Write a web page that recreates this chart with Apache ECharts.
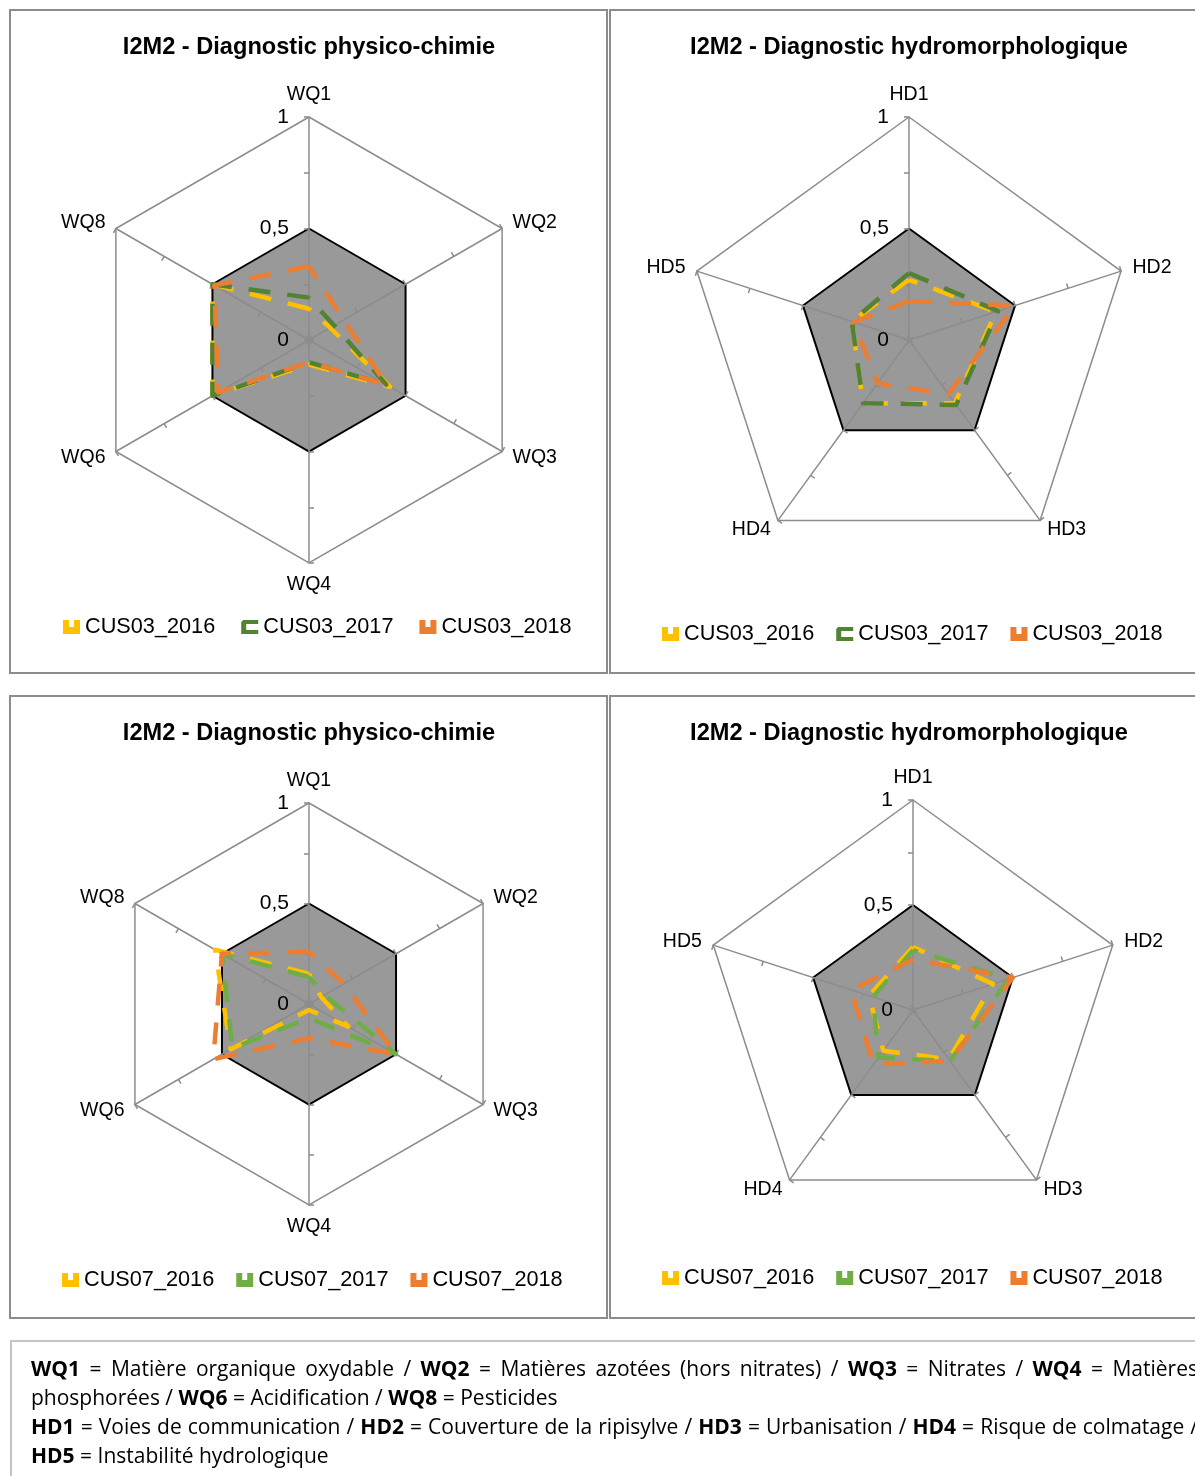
<!DOCTYPE html>
<html>
<head>
<meta charset="utf-8">
<title>I2M2 - Diagnostics CUS03 / CUS07</title>
<script src="https://cdn.jsdelivr.net/npm/echarts@6/dist/echarts.min.js"></script>
<style>
  html, body { margin: 0; padding: 0; background: #fff; overflow: hidden; }
  #chart { position: absolute; left: 0; top: 0; width: 1195px; height: 1476px; }
  #notes {
    position: absolute; left: 10px; top: 1340px; width: 1230px; height: 160px;
    box-sizing: border-box; border: 2px solid #c4c4c4;
    padding: 12px 0 0 19px;
    font-family: "Open Sans", sans-serif; font-size: 21px; line-height: 29px; color: #000;
  }
  #notes .j { width: 1167px; text-align: justify; text-align-last: justify; }
  #notes b { font-weight: 700; }
</style>
</head>
<body>
<div id="chart"></div>
<div id="notes">
  <div class="j"><b>WQ1</b> = Matière organique oxydable / <b>WQ2</b> = Matières azotées (hors nitrates) / <b>WQ3</b> = Nitrates / <b>WQ4</b> = Matières</div>
  <div>phosphorées / <b>WQ6</b> = Acidification / <b>WQ8</b> = Pesticides</div>
  <div class="j"><b>HD1</b> = Voies de communication / <b>HD2</b> = Couverture de la ripisylve / <b>HD3</b> = Urbanisation / <b>HD4</b> = Risque de colmatage /</div>
  <div><b>HD5</b> = Instabilité hydrologique</div>
</div>
<script>
// Indicator names
const wqAxes = ['WQ1', 'WQ2', 'WQ3', 'WQ4', 'WQ6', 'WQ8'];
const hdAxes = ['HD1', 'HD2', 'HD3', 'HD4', 'HD5'];

// Station CUS03 - physico-chimie (WQ1..WQ8)
const cus03_2016_wq = [0.14, 0.11, 0.42, 0.11, 0.50, 0.50];
const cus03_2017_wq = [0.19, 0.13, 0.40, 0.10, 0.50, 0.50];
const cus03_2018_wq = [0.33, 0.18, 0.40, 0.10, 0.47, 0.49];

// Station CUS03 - hydromorphologie (HD1..HD5)
const cus03_2016_hd = [0.27, 0.41, 0.35, 0.35, 0.27];
const cus03_2017_hd = [0.30, 0.42, 0.36, 0.35, 0.27];
const cus03_2018_hd = [0.175, 0.50, 0.30, 0.24, 0.26];

// Station CUS07 - physico-chimie
const cus07_2016_wq = [0.15, 0.07, 0.225, 0.03, 0.45, 0.54];
const cus07_2017_wq = [0.135, 0.09, 0.50, 0.07, 0.44, 0.50];
const cus07_2018_wq = [0.26, 0.20, 0.50, 0.17, 0.55, 0.50];

// Station CUS07 - hydromorphologie
const cus07_2016_hd = [0.30, 0.40, 0.29, 0.24, 0.22];
const cus07_2017_hd = [0.285, 0.48, 0.30, 0.28, 0.20];
const cus07_2018_hd = [0.24, 0.50, 0.30, 0.32, 0.31];

const FONT = '"Liberation Sans Narrow", "Arial Narrow", "Liberation Sans", Arial, sans-serif';
const YELLOW = '#FFC000';
const ORANGE = '#ED7D31';
const GREEN_DARK = '#548235';
const GREEN = '#70AD47';
const AXIS_GREY = '#8c8c8c';
const CORE_GREY = '#999999';
const NONE = 'rgba(0,0,0,0)';
const ICON_CUP = 'path://M0,0 L6,0 L6,7 L11,7 L11,0 L17,0 L17,14 L0,14 Z';
const ICON_BRACKET = 'path://M2,0 L17,0 L17,4 L5,4 L5,10 L17,10 L17,14 L0,14 L0,2 Z';

const commaFormat = v => String(v).replace('.', ',');
// ECharts places indicators counter-clockwise from the top; reorder so they run clockwise
const clockwise = arr => [arr[0]].concat(arr.slice(1).reverse());

const panels = [
  {
    title: 'I2M2 - Diagnostic physico-chimie', titleX: 309, titleTop: 35,
    axes: wqAxes, center: [309, 340], radius: 223,
    legendLeft: 63, legendTop: 616, legendGap: 26,
    lines: [
      { name: 'CUS03_2016', values: cus03_2016_wq, color: YELLOW, icon: ICON_CUP },
      { name: 'CUS03_2017', values: cus03_2017_wq, color: GREEN_DARK, icon: ICON_BRACKET },
      { name: 'CUS03_2018', values: cus03_2018_wq, color: ORANGE, icon: ICON_CUP }
    ]
  },
  {
    title: 'I2M2 - Diagnostic hydromorphologique', titleX: 909, titleTop: 35,
    axes: hdAxes, center: [909, 340], radius: 223,
    legendLeft: 662, legendTop: 623, legendGap: 22,
    lines: [
      { name: 'CUS03_2016', values: cus03_2016_hd, color: YELLOW, icon: ICON_CUP },
      { name: 'CUS03_2017', values: cus03_2017_hd, color: GREEN_DARK, icon: ICON_BRACKET },
      { name: 'CUS03_2018', values: cus03_2018_hd, color: ORANGE, icon: ICON_CUP }
    ]
  },
  {
    title: 'I2M2 - Diagnostic physico-chimie', titleX: 309, titleTop: 721,
    axes: wqAxes, center: [309, 1004], radius: 201,
    legendLeft: 62, legendTop: 1269, legendGap: 22,
    lines: [
      { name: 'CUS07_2016', values: cus07_2016_wq, color: YELLOW, icon: ICON_CUP },
      { name: 'CUS07_2017', values: cus07_2017_wq, color: GREEN, icon: ICON_CUP },
      { name: 'CUS07_2018', values: cus07_2018_wq, color: ORANGE, icon: ICON_CUP }
    ]
  },
  {
    title: 'I2M2 - Diagnostic hydromorphologique', titleX: 909, titleTop: 721,
    axes: hdAxes, center: [913, 1010], radius: 210,
    legendLeft: 662, legendTop: 1267, legendGap: 22,
    lines: [
      { name: 'CUS07_2016', values: cus07_2016_hd, color: YELLOW, icon: ICON_CUP },
      { name: 'CUS07_2017', values: cus07_2017_hd, color: GREEN, icon: ICON_CUP },
      { name: 'CUS07_2018', values: cus07_2018_hd, color: ORANGE, icon: ICON_CUP }
    ]
  }
];

const radar = [];
const series = [];
const legend = [];
const title = [];

panels.forEach(p => {
  const indicator = clockwise(p.axes).map(n => ({ name: n, min: 0, max: 1 }));
  const base = radar.length;
  const hidden = {
    axisName: { show: false }, axisLine: { show: false }, axisTick: { show: false },
    axisLabel: { show: false }, splitArea: { show: false }, splitLine: { show: false }
  };

  // grey core from 0 to 0.5 with its black outline
  radar.push(Object.assign({}, hidden, {
    z: 0, center: p.center, radius: p.radius, startAngle: 90, shape: 'polygon',
    splitNumber: 2, indicator: indicator,
    splitArea: { show: true, areaStyle: { color: [CORE_GREY, NONE] } },
    splitLine: { show: true, lineStyle: { color: [NONE, '#000', NONE], width: 2 } }
  }));

  // spokes, tick marks, outer frame and indicator names
  radar.push(Object.assign({}, hidden, {
    z: 1, center: p.center, radius: p.radius, startAngle: 90, shape: 'polygon',
    splitNumber: 4, indicator: indicator, nameGap: 12,
    axisName: { show: true, color: '#000', fontSize: 19.5, fontFamily: FONT },
    axisLine: { show: true, lineStyle: { color: AXIS_GREY, width: 1.5 } },
    axisTick: { show: true, length: 5, lineStyle: { color: AXIS_GREY, width: 1.5 } },
    splitLine: { show: true, lineStyle: { color: [NONE, NONE, NONE, NONE, AXIS_GREY], width: 1.5 } }
  }));

  // other half of the cross-shaped tick marks
  radar.push(Object.assign({}, hidden, {
    z: 1, center: p.center, radius: p.radius, startAngle: 90, shape: 'polygon',
    splitNumber: 4, indicator: indicator,
    axisTick: { show: true, inside: true, length: 5, lineStyle: { color: AXIS_GREY, width: 1.5 } }
  }));

  // value labels along the first spoke only
  radar.push(Object.assign({}, hidden, {
    z: 1, center: p.center, radius: p.radius, startAngle: 90, shape: 'polygon',
    splitNumber: 2, indicator: [{ name: p.axes[0], min: 0, max: 1 }],
    axisLabel: { show: true, margin: 20, color: '#000', fontSize: 21, fontFamily: FONT, formatter: commaFormat }
  }));

  p.lines.forEach(s => {
    const lineStyle = { color: s.color, width: 4.5, type: [22, 17] };
    series.push({
      type: 'radar', radarIndex: base + 1, symbol: 'none', silent: true, z: 3,
      lineStyle: lineStyle, itemStyle: { color: s.color },
      data: [{ name: s.name, value: clockwise(s.values), lineStyle: lineStyle, itemStyle: { color: s.color } }]
    });
  });

  legend.push({
    left: p.legendLeft, top: p.legendTop, width: 620, orient: 'horizontal',
    itemWidth: 17, itemHeight: 14, itemGap: p.legendGap, padding: 0, selectedMode: false,
    itemStyle: { borderWidth: 0 },
    textStyle: { color: '#000', fontSize: 21.7, fontFamily: FONT },
    data: p.lines.map(s => ({ name: s.name, icon: s.icon, itemStyle: { color: s.color, borderWidth: 0 } }))
  });

  title.push({
    text: p.title, left: p.titleX, top: p.titleTop, textAlign: 'center', padding: 0,
    textStyle: { color: '#000', fontSize: 23.6, fontWeight: 'bold', fontFamily: FONT }
  });
});

// panel frames
const frameStyle = { fill: NONE, stroke: AXIS_GREY, lineWidth: 2 };
const graphic = [
  { type: 'rect', silent: true, z: -10, shape: { x: 10, y: 10, width: 597, height: 663 }, style: frameStyle },
  { type: 'rect', silent: true, z: -10, shape: { x: 610, y: 10, width: 600, height: 663 }, style: frameStyle },
  { type: 'rect', silent: true, z: -10, shape: { x: 10, y: 696, width: 597, height: 622 }, style: frameStyle },
  { type: 'rect', silent: true, z: -10, shape: { x: 610, y: 696, width: 600, height: 622 }, style: frameStyle }
];

const chart = echarts.init(document.getElementById('chart'), null, { renderer: 'canvas' });
chart.setOption({
  backgroundColor: '#fff',
  animation: false,
  title: title,
  legend: legend,
  radar: radar,
  series: series,
  graphic: graphic
});
</script>
</body>
</html>
